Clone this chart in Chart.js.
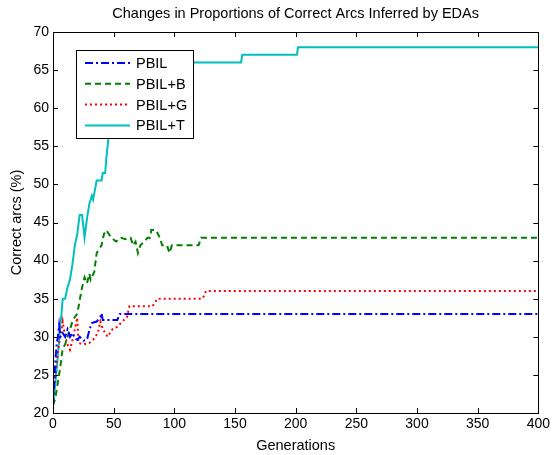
<!DOCTYPE html>
<html>
<head>
<meta charset="utf-8">
<script src="https://cdn.jsdelivr.net/npm/chart.js@4/dist/chart.umd.min.js"></script>
<style>
  html, body { margin: 0; padding: 0; background: #fff; }
  #wrap { width: 553px; height: 455px; position: relative; }
</style>
</head>
<body>
<div id="wrap"><canvas id="chart"></canvas></div>
<script>
// values, one pair of arrays per algorithm
const TITLE = "Changes in Proportions of Correct Arcs Inferred by EDAs";
const X_TICKS = [0, 50, 100, 150, 200, 250, 300, 350, 400];
const Y_TICKS = [20, 25, 30, 35, 40, 45, 50, 55, 60, 65, 70];

const pbilGen = [0, 1, 2, 3, 4, 5, 6, 8, 10, 12, 14, 16, 18, 20, 22, 25, 28, 30, 32, 36, 39, 40, 41, 53, 55, 400];
const pbilVal = [21, 24, 27, 29, 30, 31.5, 30, 30.5, 30, 31, 30, 30.5, 29.8, 29.6, 30, 29.5, 29.6, 30.9, 31.8, 32, 32.6, 33.1, 32.2, 32.2, 33, 33];

const pbilBGen = [0, 2, 4, 6, 8, 10, 12, 14, 16, 18, 20, 22, 24, 26, 28, 30, 31, 34, 36, 38, 40, 42, 44, 46, 48, 52, 56, 60, 64, 66, 68, 70, 72, 74, 78, 80, 81, 85, 88, 90, 94, 96, 98, 120, 122, 400];
const pbilBVal = [21, 22, 24, 26, 28.5, 29, 30, 31, 32, 32.6, 33, 34.8, 36.5, 37.8, 37, 38.3, 37.5, 38.5, 41, 41.5, 42, 43.5, 44, 43.5, 43, 42.5, 43, 42.8, 43, 42, 42.5, 41, 42, 42.3, 43, 43, 44, 44, 43, 42, 42, 41, 42, 42, 43, 43];

const pbilGGen = [0, 2, 4, 6, 8, 10, 12, 14, 16, 18, 20, 21, 25, 30, 33, 37, 39, 41, 45, 49, 53, 57, 61, 63, 82, 84, 86, 123, 125, 126, 400];
const pbilGVal = [22, 25, 28, 30, 32, 30, 29, 28.3, 29.5, 31, 32.5, 29.2, 29, 29.2, 29.6, 30.5, 32, 31, 30, 31, 31.3, 32, 32.6, 34, 34, 34.5, 35, 35, 35.5, 36, 36];

const pbilTGen = [0, 2, 4, 6, 7, 8, 10, 12, 14, 16, 18, 20, 22, 24, 26, 28, 30, 32, 33, 36, 38, 40, 41, 43, 44, 45, 47, 49, 52, 56, 60, 155, 156, 201, 202, 400];
const pbilTVal = [21, 24, 27.5, 31.5, 33, 35, 35, 36.5, 37.5, 39.5, 42, 43.5, 46, 46, 43, 45.5, 47.5, 48.5, 48, 50.5, 50.5, 50.5, 51.5, 51.5, 53.5, 55, 58, 61, 63.5, 65.5, 66, 66, 67, 67, 68, 68];

const FONT = "'Liberation Sans', Arial, Helvetica, sans-serif";

function pairs(xs, ys) {
  return xs.map((x, i) => ({ x, y: ys[i] }));
}

const series = [
  { label: "PBIL",   gen: pbilGen,  val: pbilVal,  color: "#0000FF", dash: [8, 3, 2, 3] },
  { label: "PBIL+B", gen: pbilBGen, val: pbilBVal, color: "#008000", dash: [6, 4] },
  { label: "PBIL+G", gen: pbilGGen, val: pbilGVal, color: "#FF0000", dash: [2, 3] },
  { label: "PBIL+T", gen: pbilTGen, val: pbilTVal, color: "#00BFBF", dash: [] },
];

// MATLAB-ish frame: box, inward ticks on all sides, title, legend inside the axes
const matlabFrame = {
  id: "matlabFrame",
  afterDatasetsDraw(chart) {
    const { ctx, chartArea: a, scales } = chart;
    ctx.save();
    ctx.strokeStyle = "#000";
    ctx.lineWidth = 1;
    ctx.beginPath();
    X_TICKS.forEach(v => {
      const px = Math.round(scales.x.getPixelForValue(v)) + 0.5;
      ctx.moveTo(px, a.bottom); ctx.lineTo(px, a.bottom - 5);
      ctx.moveTo(px, a.top); ctx.lineTo(px, a.top + 5);
    });
    Y_TICKS.forEach(v => {
      const py = Math.round(scales.y.getPixelForValue(v)) + 0.5;
      ctx.moveTo(a.left, py); ctx.lineTo(a.left + 5, py);
      ctx.moveTo(a.right, py); ctx.lineTo(a.right - 5, py);
    });
    ctx.stroke();
    ctx.strokeRect(Math.round(a.left) + 0.5, Math.round(a.top) + 0.5,
      Math.round(a.right - a.left), Math.round(a.bottom - a.top));

    // title
    ctx.fillStyle = "#000";
    ctx.font = "14.5px " + FONT;
    ctx.textAlign = "center";
    ctx.textBaseline = "middle";
    ctx.fillText(TITLE, (a.left + a.right) / 2, 14);

    // legend box
    const lx = 76, ly = 50, lw = 117, lh = 88;
    ctx.fillStyle = "#fff";
    ctx.fillRect(lx, ly, lw, lh);
    ctx.strokeRect(lx + 0.5, ly + 0.5, lw, lh);
    ctx.font = "14.5px " + FONT;
    ctx.textAlign = "left";
    series.forEach((s, i) => {
      const y = 63 + i * 20.8;
      ctx.strokeStyle = s.color;
      ctx.lineWidth = 2;
      ctx.setLineDash(s.dash);
      ctx.beginPath();
      ctx.moveTo(85, y); ctx.lineTo(130, y);
      ctx.stroke();
      ctx.setLineDash([]);
      ctx.fillStyle = "#000";
      ctx.fillText(s.label, 136, y + 1);
    });
    ctx.restore();
  },
};

new Chart(document.getElementById("chart"), {
  type: "line",
  data: {
    datasets: series.map(s => ({
      label: s.label,
      data: pairs(s.gen, s.val),
      borderColor: s.color,
      borderDash: s.dash,
      borderWidth: 2,
      pointRadius: 0,
      fill: false,
      tension: 0,
    })),
  },
  options: {
    responsive: true,
    maintainAspectRatio: false,
    animation: false,
    layout: { padding: { top: 32, right: 13, left: 0, bottom: 0 } },
    plugins: { legend: { display: false }, tooltip: { enabled: false } },
    scales: {
      x: {
        type: "linear",
        min: 0, max: 400,
        afterBuildTicks: (s) => { s.ticks = X_TICKS.map(v => ({ value: v })); },
        afterFit: (s) => { s.height = 42; },
        grid: { display: false, drawTicks: false },
        border: { display: false },
        ticks: { color: "#000", font: { family: FONT, size: 14 }, padding: 3, maxRotation: 0 },
        title: { display: true, text: "Generations", color: "#000", font: { family: FONT, size: 14.5 }, padding: { top: 3, bottom: 0 } },
      },
      y: {
        type: "linear",
        min: 20, max: 70,
        afterBuildTicks: (s) => { s.ticks = Y_TICKS.map(v => ({ value: v })); },
        afterFit: (s) => { s.width = 53; },
        grid: { display: false, drawTicks: false },
        border: { display: false },
        ticks: { color: "#000", font: { family: FONT, size: 14 }, padding: 4 },
        title: { display: true, text: "Correct arcs (%)", color: "#000", font: { family: FONT, size: 14.5 }, padding: { top: 8, bottom: 0 } },
      },
    },
  },
  plugins: [matlabFrame],
});
</script>
</body>
</html>
